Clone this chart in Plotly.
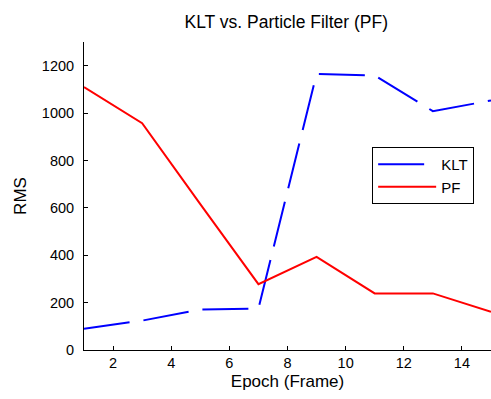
import plotly.graph_objects as go

epochs = [1, 3, 5, 7, 9, 11, 13, 15]
klt_rms = [90, 124, 171, 175, 1165, 1159, 1008, 1053]
pf_rms = [1110, 957, 616, 278, 393, 239, 239, 161]
x_ticks = [2, 4, 6, 8, 10, 12, 14]
y_ticks = [0, 200, 400, 600, 800, 1000, 1200]

FONT = "Liberation Sans, Arial, sans-serif"

fig = go.Figure()
fig.add_trace(go.Scatter(x=epochs, y=klt_rms, mode="lines", name="KLT", legendgroup="klt",
                         line=dict(color="#0000ff", width=2, dash="46px,14px")))
fig.add_trace(go.Scatter(x=epochs, y=pf_rms, mode="lines", name="PF", legendgroup="pf",
                         line=dict(color="#ff0000", width=2)))

fig.update_layout(
    width=491, height=399,
    margin=dict(l=84, r=0, t=42, b=49),
    paper_bgcolor="white", plot_bgcolor="white",
    font=dict(family=FONT, size=14, color="black"),
    title=dict(text="KLT vs. Particle Filter (PF)", x=0.583, xanchor="center",
               y=0.945, yanchor="middle", font=dict(family=FONT, size=17.5, color="black")),
    showlegend=True,
    legend=dict(x=0.708, y=0.659, xanchor="left", yanchor="top",
                bordercolor="black", borderwidth=1, bgcolor="white",
                font=dict(size=15), tracegroupgap=7, itemwidth=58,
                traceorder="normal"),
    xaxis=dict(range=[1, 15], tickvals=x_ticks, showgrid=False, zeroline=False,
               showline=True, linecolor="black", linewidth=1,
               ticks="inside", ticklen=4, tickcolor="black",
               tickfont=dict(size=14.5),
               title=dict(text="Epoch (Frame)", standoff=4)),
    yaxis=dict(range=[0, 1300], tickvals=y_ticks, showgrid=False, zeroline=False,
               showline=True, linecolor="black", linewidth=1,
               ticks="inside", ticklen=4, tickcolor="black",
               tickfont=dict(size=14.5),
               ticklabelstandoff=6,
               title=dict(text="RMS", standoff=10)),
)

fig.write_html("out.html")
